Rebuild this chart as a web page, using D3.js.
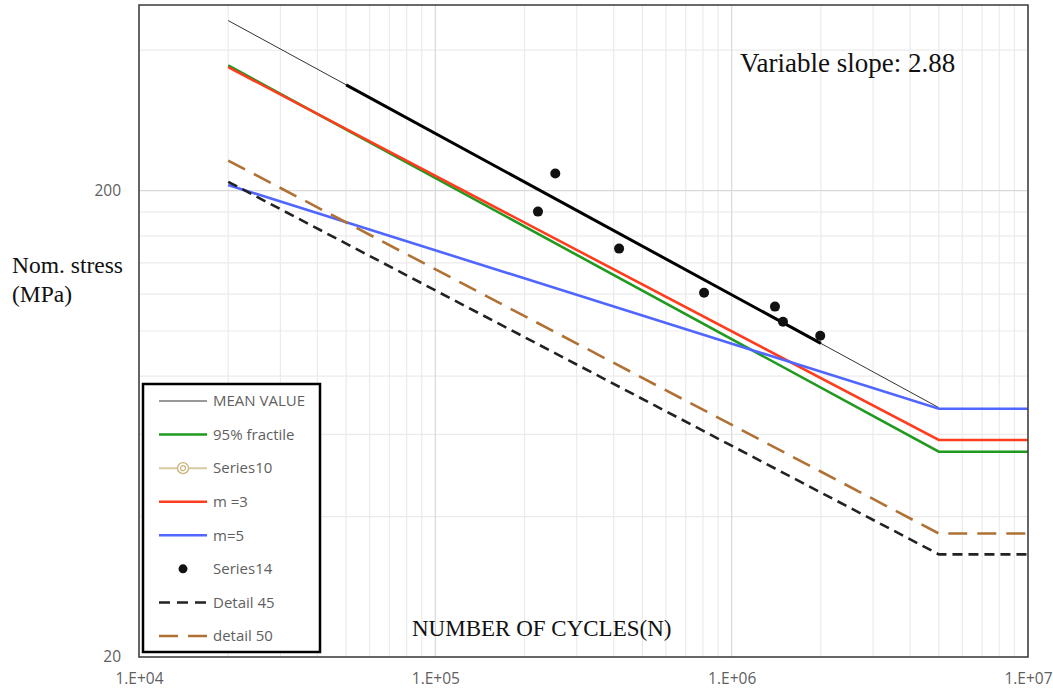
<!DOCTYPE html>
<html>
<head>
<meta charset="utf-8">
<script src="https://cdn.jsdelivr.net/npm/d3@7"></script>
<style>
  body { margin: 0; background: #fff; }
  svg { display: block; }
  .tick-label { font-family: "Open Sans", "Liberation Sans", sans-serif; font-size: 15.5px; fill: #5f5f5f; }
  .serif { font-family: "Liberation Serif", "DejaVu Serif", serif; fill: #111; }
  .legend-text { font-family: "Open Sans", "Liberation Sans", sans-serif; font-size: 15px; fill: #5f5f5f; }
</style>
</head>
<body>
<svg id="chart" width="1053" height="696"></svg>
<script>
// N (cycles) and stress range (MPa)
const slopeN      = [2e4, 5e6];
const cutoffN     = [2e4, 5e6, 1e7];
const meanS       = [463, 68.5];
const trendN      = [5e4, 2e6];
const trendS      = [337, 94.1];
const fractileS   = [371, 55.1, 55.1];
const m3S         = [368, 58.4, 58.4];
const m5S         = [205.5, 68.1, 68.1];
const detail45S   = [208.9, 33.2, 33.2];
const detail50S   = [232, 36.8, 36.8];
const testN       = [2.22e5, 2.54e5, 4.17e5, 8.07e5, 1.40e6, 1.49e6, 1.99e6];
const testS       = [180.3, 217.6, 150.2, 120.8, 112.8, 104.7, 97.7];

const xTicks      = [1e4, 1e5, 1e6, 1e7];
const yTicks      = [20, 200];
const xMinorGrid  = [2, 3, 4, 5, 6, 7, 8, 9];
const yMinorGrid  = [40, 60, 80, 100, 120, 140, 160, 180, 400];

const legendNames = ["MEAN VALUE", "95% fractile", "Series10", "m =3", "m=5", "Series14", "Detail 45", "detail 50"];

const plot = { left: 139, top: 5, right: 1028, bottom: 657 };

const x = d3.scaleLog([1e4, 1e7], [plot.left, plot.right]);
const y = d3.scaleLog([20, 500], [plot.bottom, plot.top]);

const svg = d3.select("#chart");
svg.append("rect").attr("width", 1053).attr("height", 696).attr("fill", "#fff");

// gridlines
const grid = svg.append("g").attr("class", "grid");
const xMinor = [];
xTicks.slice(0, -1).forEach(d => xMinorGrid.forEach(k => xMinor.push(d * k)));
grid.selectAll("line.xm").data(xMinor).join("line").attr("class", "xm")
    .attr("x1", d => x(d)).attr("x2", d => x(d))
    .attr("y1", plot.top).attr("y2", plot.bottom)
    .attr("stroke", "#ebebeb").attr("stroke-width", 1.2);
grid.selectAll("line.ym").data(yMinorGrid).join("line").attr("class", "ym")
    .attr("y1", d => y(d)).attr("y2", d => y(d))
    .attr("x1", plot.left).attr("x2", plot.right)
    .attr("stroke", "#ebebeb").attr("stroke-width", 1.2);
grid.selectAll("line.xM").data(xTicks).join("line").attr("class", "xM")
    .attr("x1", d => x(d)).attr("x2", d => x(d))
    .attr("y1", plot.top).attr("y2", plot.bottom)
    .attr("stroke", "#d9d9d9").attr("stroke-width", 1.2);
grid.selectAll("line.yM").data(yTicks).join("line").attr("class", "yM")
    .attr("y1", d => y(d)).attr("y2", d => y(d))
    .attr("x1", plot.left).attr("x2", plot.right)
    .attr("stroke", "#d9d9d9").attr("stroke-width", 1.2);

// axes
const fmtX = d => "1.E+" + String(Math.round(Math.log10(d))).padStart(2, "0");
svg.append("g")
   .attr("transform", `translate(0,${plot.bottom})`)
   .call(d3.axisBottom(x).tickValues(xTicks).tickFormat(fmtX).tickSize(0).tickPadding(16))
   .call(g => g.select(".domain").remove())
   .selectAll("text").attr("class", "tick-label").attr("fill", null);
svg.append("g")
   .attr("transform", `translate(${plot.left},0)`)
   .call(d3.axisLeft(y).tickValues(yTicks).tickFormat(d3.format("d")).tickSize(0).tickPadding(18))
   .call(g => g.select(".domain").remove())
   .selectAll("text").attr("class", "tick-label").attr("fill", null);

// series
const line = d3.line().x(d => x(d[0])).y(d => y(d[1]));
const pts = (ns, ss) => ns.map((n, i) => [n, ss[i]]);
const series = svg.append("g").attr("class", "series");

function draw(data, color, width, dash) {
  series.append("path")
        .attr("d", line(data))
        .attr("fill", "none")
        .attr("stroke", color)
        .attr("stroke-width", width)
        .attr("stroke-dasharray", dash || null);
}

draw(pts(slopeN, meanS), "#333", 1);
draw(pts(trendN, trendS), "#000", 3);
draw(pts(cutoffN, fractileS), "#1f9a1f", 2.6);
draw(pts(cutoffN, m3S), "#ff3c1e", 2.6);
draw(pts(cutoffN, m5S), "#5066ff", 2.6);

series.selectAll("circle").data(pts(testN, testS)).join("circle")
      .attr("cx", d => x(d[0])).attr("cy", d => y(d[1]))
      .attr("r", 5).attr("fill", "#111");

draw(pts(cutoffN, detail45S), "#222", 2.6, "10,6");
draw(pts(cutoffN, detail50S), "#b07234", 2.6, "19,10");

// plot frame
svg.append("rect")
   .attr("x", plot.left).attr("y", plot.top)
   .attr("width", plot.right - plot.left).attr("height", plot.bottom - plot.top)
   .attr("fill", "none").attr("stroke", "#3a3a3a").attr("stroke-width", 1.5);

// titles
svg.append("text").attr("class", "serif").attr("x", 12).attr("y", 273)
   .attr("font-size", 23.5).text("Nom. stress");
svg.append("text").attr("class", "serif").attr("x", 12).attr("y", 302)
   .attr("font-size", 23.5).text("(MPa)");
svg.append("text").attr("class", "serif").attr("x", 412).attr("y", 636)
   .attr("font-size", 23).text("NUMBER OF CYCLES(N)");
svg.append("text").attr("class", "serif").attr("x", 740).attr("y", 72)
   .attr("font-size", 27).text("Variable slope: 2.88");

// legend
const legend = svg.append("g").attr("transform", "translate(143,384)");
legend.append("rect").attr("width", 177).attr("height", 268)
      .attr("fill", "#fff").attr("stroke", "#000").attr("stroke-width", 2.5);

const legendY = d3.scalePoint(legendNames, [17, 252]);
const sym = [
  { color: "#333", w: 1 },
  { color: "#1f9a1f", w: 2.6 },
  { color: "#d8c9a0", w: 2, marker: true },
  { color: "#ff3c1e", w: 2.6 },
  { color: "#5066ff", w: 2.6 },
  { dot: true },
  { color: "#222", w: 2.6, dash: "11,7" },
  { color: "#b07234", w: 2.6, dash: "19,10" }
];

legendNames.forEach((name, i) => {
  const g = legend.append("g").attr("transform", `translate(0,${legendY(name)})`);
  const s = sym[i];
  if (s.dot) {
    g.append("circle").attr("cx", 40).attr("cy", 0).attr("r", 4.5).attr("fill", "#111");
  } else {
    g.append("line").attr("x1", 16).attr("x2", 64).attr("y1", 0).attr("y2", 0)
     .attr("stroke", s.color).attr("stroke-width", s.w)
     .attr("stroke-dasharray", s.dash || null);
    if (s.marker) {
      g.append("circle").attr("cx", 40).attr("r", 5.5).attr("fill", "#fff")
       .attr("stroke", "#c9b27a").attr("stroke-width", 1.3);
      g.append("circle").attr("cx", 40).attr("r", 2.5).attr("fill", "none")
       .attr("stroke", "#c9b27a").attr("stroke-width", 1.2);
    }
  }
  g.append("text").attr("class", "legend-text").attr("x", 70).attr("dy", "0.35em").text(name);
});
</script>
</body>
</html>
